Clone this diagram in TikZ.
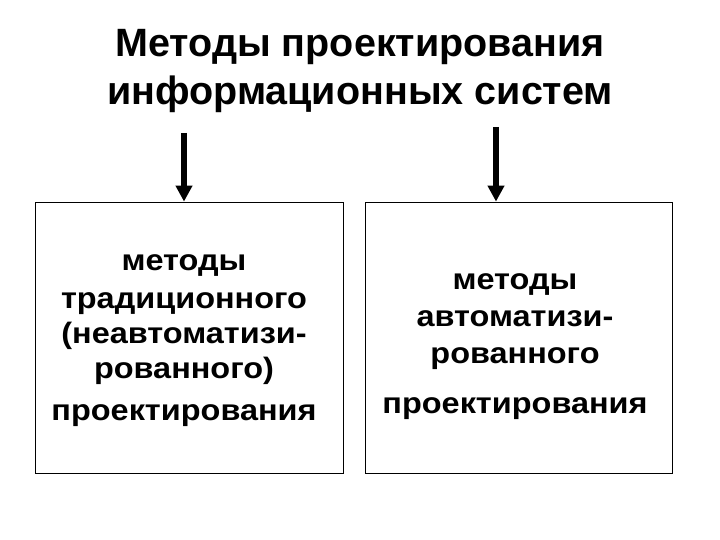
\documentclass[tikz,border=0pt]{standalone}
\usepackage{fontspec}
\setmainfont{Liberation Sans}
\newfontfamily\boxfont[FakeStretch=1.1]{Liberation Sans Bold}
\usetikzlibrary{arrows.meta}
\begin{document}
\begin{tikzpicture}[x=1pt,y=-1pt,
  boxstyle/.style={draw,line width=0.8pt,minimum height=271pt,inner sep=0pt},
  boxtext/.style={align=center,inner sep=0pt,font=\boxfont\fontsize{29.5}{35}\selectfont},
  arrowstyle/.style={line width=6pt,-{Triangle[width=16pt,length=16pt]}}]
\useasboundingbox (0,0) rectangle (720,540);
\node[align=center,inner sep=0pt,font=\fontsize{39.5}{48}\selectfont\bfseries] (title) at (360,71)
  {Методы проектирования\\информационных систем};
\node[boxstyle,minimum width=308pt] (b1) at (189,337.5) {};
\node[boxstyle,minimum width=307pt] (b2) at (518.5,337.5) {};
\node[boxtext] (t1) at (184,340.5) {методы\\[3pt]традиционного\\ (неавтоматизи-\\рованного)\\[7pt]проектирования};
\node[boxtext,font=\boxfont\fontsize{29.5}{37}\selectfont] (t2) at (515,346.5) {методы\\ автоматизи-\\рованного\\[13pt]проектирования};
\coordinate (s1) at (184,133);
\coordinate (s2) at (496,127);
\draw[arrowstyle] (s1) -- (s1 |- b1.north);
\draw[arrowstyle] (s2) -- (s2 |- b2.north);
\end{tikzpicture}
\end{document}
